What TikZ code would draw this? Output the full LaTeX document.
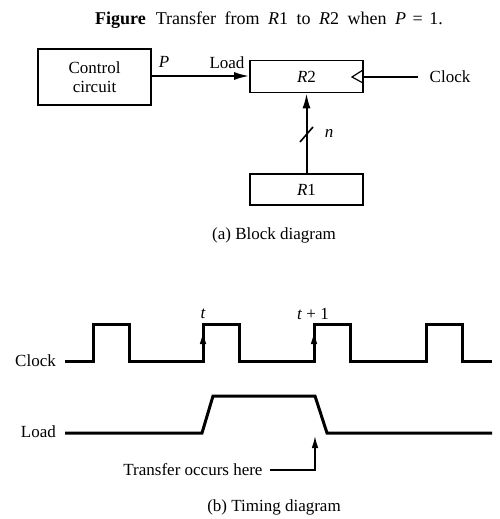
\documentclass[tikz,border=0pt]{standalone}
\usepackage{fontspec}
\setmainfont{Liberation Serif}
\usetikzlibrary{arrows.meta}
\begin{document}
\begin{tikzpicture}[x=1pt,y=-1pt,
  blk/.style={draw,line width=1.6pt,inner sep=0pt},
  wave/.style={line width=3pt,line join=miter},
  txt/.style={inner sep=0pt,font=\fontsize{17}{18}\selectfont},
  itxt/.style={inner sep=0pt,font=\fontsize{17}{18}\selectfont\itshape},
  bigarr/.style={-{Latex[length=15pt,width=8pt]}},
  smallarr/.style={-{Latex[length=12pt,width=6.5pt]}},
  conn/.style={line width=2pt}]
\useasboundingbox (0,0) rectangle (500,519);
% title
\node[inner sep=0pt,anchor=base west,font=\fontsize{18}{20}\selectfont] (title) at (95,25)
  {\textbf{Figure}\hspace{10pt}Transfer\hspace{4pt} from\hspace{4pt} \textit{R}1\hspace{4pt} to\hspace{4pt} \textit{R}2\hspace{4pt} when\hspace{4pt} \textit{P}\hspace{2pt} =\hspace{2pt} 1.};
% blocks
\node[blk,minimum width=113pt,minimum height=56pt,align=center,txt] (ctrl) at (94.5,77) {Control\\[1.5pt]circuit};
\node[blk,minimum width=113pt,minimum height=32pt,txt] (r2) at (306.5,76.5) {\textit{R}2};
\node[blk,minimum width=113pt,minimum height=31pt,txt] (r1) at (306.5,189.5) {\textit{R}1};
\node[txt] (clk) at (450,77) {Clock};
\coordinate (clkend) at (418,77);
\draw[conn,bigarr] (ctrl.east |- 0,76) -- (r2.west |- 0,76);
\node[itxt] (p) at (164,62) {P};
\node[txt] (load) at (227,63) {Load};
\draw[conn] (clkend) -- (r2.east |- clkend);
\draw[line width=1.2pt] (363,70) -- (352,77) -- (363,83);
\draw[conn,bigarr] (r1.north) -- (r2.south);
\draw[line width=1.6pt] (300,142) -- (313,127);
\node[itxt] (n) at (329,133) {n};
\node[txt] (capa) at (274,235) {(a) Block diagram};
% timing
\node[txt,anchor=east] (clkl) at (56,361) {Clock};
\node[txt,anchor=east] (loadl) at (56,432) {Load};
\draw[wave] (65,361) -- (93,361) -- (93,324) -- (129,324) -- (129,361)
  -- (203,361) -- (203,324) -- (239,324) -- (239,361)
  -- (314,361) -- (314,324) -- (350,324) -- (350,361)
  -- (426,361) -- (426,324) -- (462,324) -- (462,361) -- (492,361);
\draw[line width=1.2pt,smallarr] (203,352) -- (203,332);
\draw[line width=1.2pt,smallarr] (314,352) -- (314,332);
\node[itxt] (t) at (203,314) {t};
\node[txt] (t1) at (313,314) {\textit{t} + 1};
\draw[wave] (65,433) -- (202,433) -- (213,396) -- (315,396) -- (327,433) -- (492,433);
\node[txt] (tr) at (193,470) {Transfer occurs here};
\coordinate (trc) at (315,470);
\coordinate (trt) at (315,436);
\draw[line width=1.3pt,smallarr] (270,470) -- (trc) -- (trt);
\node[txt] (capb) at (274,507) {(b) Timing diagram};
\end{tikzpicture}
\end{document}
